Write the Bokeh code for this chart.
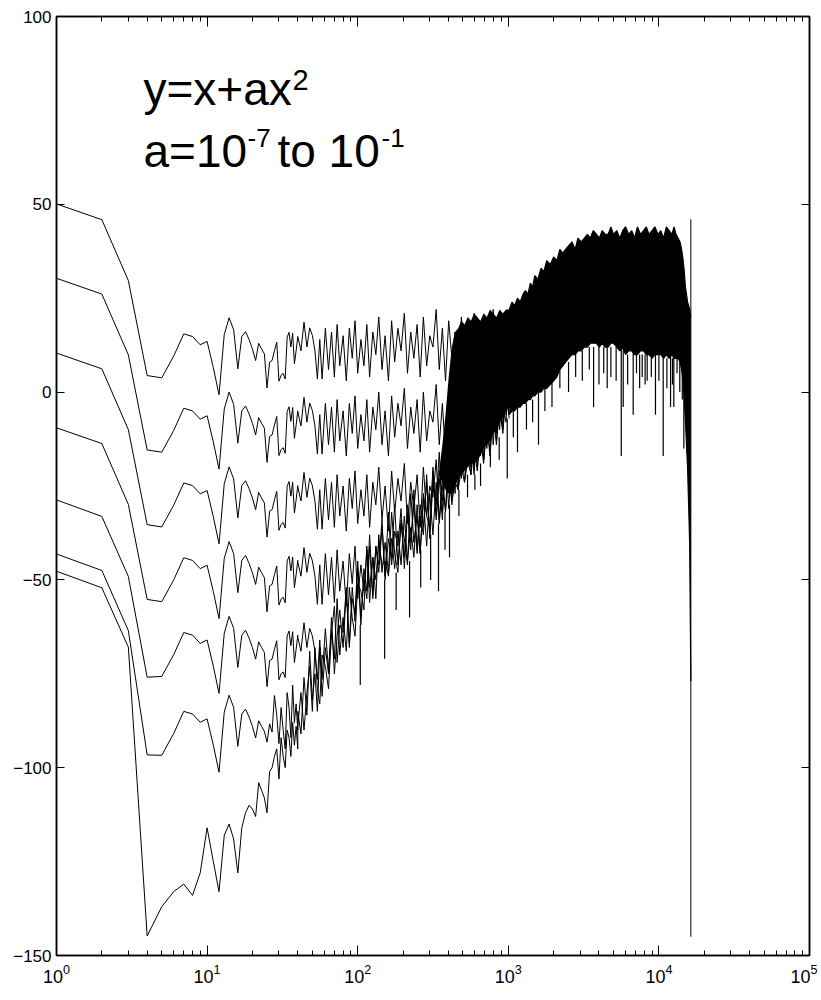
from bokeh.plotting import figure
from bokeh.models import Range1d, LogAxis, LinearAxis, FixedTicker, LogTicker, Label, CustomJSTickFormatter
from bokeh.embed import file_html
from bokeh.resources import INLINE

# ---------------- data ----------------
X_LOW = list(range(1, 41))

C1_LOW = [50.1, 45.9, 29.7, 4.4, 3.8, 9.6, 15.5, 14.8, 12.6, 13.5,
          6.5, -0.7, 15.3, 19.8, 16.6, 6.2, 14.8, 16.1, 14.0, 11.5,
          8.4, 13.0, 11.5, 10.2, 1.1, 8.0, 8.4, 11.0, 13.3, 2.9,
          4.5, 5.0, 3.5, 14.6, 15.9, 12.0, 15.7, 7.5, 11.0, 14.8]
C2_LOW = [30.3, 26.1, 9.9, -15.4, -16.0, -10.2, -4.3, -5.0, -7.2, -6.3,
          -13.3, -20.5, -4.5, 0.0, -3.2, -13.6, -5.0, -3.7, -5.8, -8.3,
          -11.4, -6.8, -8.3, -9.6, -18.7, -11.8, -11.4, -8.8, -6.5, -16.9,
          -15.3, -14.8, -16.3, -5.2, -3.9, -7.8, -4.1, -12.3, -8.8, -5.0]
C3_LOW = [10.4, 6.2, -10.0, -35.3, -35.9, -30.1, -24.2, -24.9, -27.1, -26.2,
          -33.2, -40.4, -24.4, -19.9, -23.1, -33.5, -24.9, -23.6, -25.7, -28.2,
          -31.3, -26.7, -28.2, -29.5, -38.6, -31.7, -31.3, -28.7, -26.4, -36.8,
          -35.2, -34.7, -36.2, -25.1, -23.8, -27.7, -24.0, -32.2, -28.7, -24.9]
C4_LOW = [-9.5, -13.7, -29.9, -55.2, -55.8, -50.0, -44.1, -44.8, -47.0, -46.1,
          -53.1, -60.3, -44.3, -39.8, -43.0, -53.4, -44.8, -43.5, -45.6, -48.1,
          -51.2, -46.6, -48.1, -49.4, -58.5, -51.6, -51.2, -48.6, -46.3, -56.7,
          -55.1, -54.6, -56.1, -45.0, -43.7, -47.6, -43.9, -52.1, -48.6, -44.8]
C5_LOW = [-28.7, -33.1, -49.1, -75.9, -75.7, -69.9, -64.0, -64.7, -66.9, -66.0,
          -73.0, -80.2, -64.2, -59.7, -62.9, -73.3, -64.7, -63.4, -65.5, -68.0,
          -71.1, -66.5, -68.0, -69.3, -78.4, -71.5, -71.1, -68.5, -66.2, -76.6,
          -75.0, -74.5, -76.0, -64.9, -63.6, -67.5, -63.8, -72.0, -68.5, -64.7]
C6_LOW = [-43.1, -47.5, -63.5, -96.6, -96.7, -90.9, -85.0, -85.7, -87.9, -87.0,
          -94.0, -101.2, -85.2, -80.7, -83.9, -94.3, -85.7, -84.4, -86.5, -89.0,
          -92.1, -87.5, -89.0, -90.3, -93.2, -88.3, -90.5, -80.8, -86.0, -93.6,
          -84.0, -90.0, -95.0, -80.0, -84.0, -92.0, -78.0, -88.0, -83.0, -90.0]
C7_LOW = [-47.7, -52.1, -67.9, -144.8, -137.0, -133.0, -131.0, -134.0, -128.0, -116.0,
          -125.0, -133.0, -118.0, -115.0, -119.0, -128.0, -116.0, -112.0, -110.0, -111.0,
          -113.0, -104.0, -106.0, -108.0, -112.0, -101.0, -100.0, -97.0, -95.0, -103.0,
          -92.0, -97.0, -100.0, -90.0, -92.0, -97.0, -88.0, -94.0, -89.0, -95.0]

X_MID = [40, 42, 44, 46, 48, 50, 52, 54, 56, 58,
         61, 64, 67, 70, 73, 76, 80, 84, 88, 92,
         96, 100, 105, 110, 115, 120, 126, 132, 138, 145,
         152, 160, 168, 176, 185, 194, 204, 214, 225, 236,
         248, 260, 273, 287, 301, 316, 332, 348, 365, 383,
         402, 422, 443, 465, 488, 512, 538, 565, 593, 622,
         653, 686, 720, 756, 794, 834, 876, 920, 966, 1014]

C1_MID = [14.8, 11.0, 18.6, 12.0, 17.1, 15.1, 11.0, 3.5, 14.0, 3.5,
          17, 6, 16, 4, 18, 7, 15, 3, 17, 9,
          19, 5, 14, 7, 18, 4, 16, 10, 20, 6,
          15, 3, 19, 8, 17, 11, 21, 5, 16, 9,
          18, 4, 20, 7, 15, 12, 22, 6, 17, 3,
          19, 9, 16, 5, 20, 8, 18, 4, 21, 10,
          17, 6, 19, 7, 22, 5, 18, 9, 21, 12]
C2_MID = [-5.2, -9.0, -1.4, -8.0, -2.9, -4.9, -9.0, -16.5, -6.0, -16.5,
          -3, -14, -4, -16, -2, -13, -5, -17, -3, -11,
          -1, -15, -6, -13, -2, -16, -4, -10, 0, -14,
          -5, -17, -1, -12, -3, -9, 1, -15, -4, -11,
          -2, -16, 0, -13, -5, -8, 2, -14, -3, -17,
          -1, -11, -4, -15, 0, -12, -2, -16, 1, -10,
          -3, -14, -1, -12, 2, -11, -2, -9, 1, -6]
C3_MID = [-25.2, -29.0, -21.4, -28.0, -22.9, -24.9, -29.0, -36.5, -26.0, -36.5,
          -23, -34, -24, -36, -22, -33, -25, -37, -23, -31,
          -21, -35, -26, -33, -22, -36, -24, -30, -20, -34,
          -25, -37, -21, -32, -23, -29, -19, -35, -24, -31,
          -22, -36, -20, -33, -25, -28, -18, -34, -23, -32,
          -21, -29, -24, -26, -20, -24, -18, -22, -14, -21,
          -12, -19, -9, -17, -6, -14, -4, -11, 0, -7]
C4_MID = [-45.2, -49.0, -41.4, -48.0, -42.9, -44.9, -49.0, -56.5, -46.0, -56.5,
          -43, -54, -44, -56, -42, -53, -45, -57, -43, -51,
          -41, -55, -46, -53, -42, -56, -44, -50, -40, -46,
          -45, -49, -39, -47, -37, -46, -33, -45, -36, -44,
          -30, -43, -28, -41, -27, -38, -24, -35, -25, -31,
          -17, -30, -21, -26, -12, -24, -15, -22, -9, -20,
          -8, -18, -6, -16, -1, -13, -3, -10, 2, -6]
C5_MID = [-65.2, -69.0, -61.4, -68.0, -62.9, -64.9, -69.0, -76.5, -66.0, -76.5,
          -63, -74, -64, -57, -72, -62, -64, -52, -67, -52,
          -61, -47, -62, -47, -53, -38, -54, -41, -48, -36,
          -49, -32, -46, -37, -41, -31, -47, -32, -42, -26,
          -42, -30, -36, -24, -38, -20, -33, -21, -29, -15,
          -31, -18, -21, -7, -23, -9, -19, -6, -21, -3,
          -17, -5, -11, 1, -14, 2, -6, 9, -6, 7]
C6_MID = [-85, -91, -76, -86, -69, -82, -75, -85, -68, -81,
          -68, -75, -60, -75, -65, -58, -68, -53, -68, -55,
          -59, -45, -60, -50, -55, -41, -55, -41, -46, -34,
          -50, -39, -44, -30, -46, -35, -44, -30, -40, -30,
          -43, -33, -38, -22, -39, -24, -30, -16, -32, -20,
          -26, -14, -27, -8, -22, -13, -16, -5, -22, -7,
          -16, 1, -15, -3, -8, 3, -10, 5, -5, 11]
C7_MID = [-89, -80, -90, -80, -73, -85, -68, -79, -83, -70,
          -73, -79, -64, -71, -55, -70, -60, -69, -52, -60,
          -65, -51, -53, -58, -41, -52, -44, -55, -38, -48,
          -40, -48, -32, -43, -48, -34, -39, -46, -27, -40,
          -33, -43, -27, -33, -36, -21, -34, -23, -34, -16,
          -22, -27, -10, -25, -12, -19, -4, -20, -12, -15,
          -5, -18, -5, -12, 4, -11, 2, -3, -8, 9]

# dense (merged) part of the mid band, drawn as a filled area
X_MB = [345, 365, 383, 402, 422, 443, 465, 488, 512, 538, 565, 593, 622, 653,
        686, 720, 756, 794, 834, 876, 920, 966, 1014, 1100]
MB_LO = [-22, -24, -26, -27, -27, -25, -23, -22, -21, -20, -19, -19, -18, -17,
         -15, -14, -13, -11, -10, -8, -7, -5, -4, -5]
MB_UP = [-22, -14, -6, 4, 12, 16, 17, 19, 18, 20, 19, 21, 20, 19,
         21, 20, 22, 21, 20, 22, 21, 22, 22, 23]

X_HI = [1014, 1060, 1100, 1150, 1200, 1250, 1300, 1350, 1400, 1450,
        1500, 1570, 1650, 1720, 1800, 1900, 2000, 2100, 2200, 2300,
        2400, 2520, 2650, 2780, 2900, 3050, 3200, 3350, 3500, 3670,
        3850, 4020, 4200, 4400, 4600, 4800, 5000, 5250, 5500, 5750,
        6000, 6300, 6600, 6900, 7200, 7550, 7900, 8250, 8600, 9000,
        9400, 9850, 10300, 10750, 11200, 11700, 12200, 12600, 13000, 13400,
        13800, 14150, 14500, 14750, 15000, 15250, 15500, 15750, 16000, 16300]
HI_UP = [22, 24, 23, 25, 24, 26, 27, 26, 29, 28,
         31, 30, 33, 32, 35, 34, 36, 35, 38, 37,
         38, 39, 40, 38, 41, 40, 41, 42, 41, 43,
         42, 41, 43, 42, 42, 44, 42, 43, 41, 43,
         44, 42, 43, 41, 44, 42, 43, 44, 42, 43,
         44, 42, 43, 41, 44, 43, 42, 44, 42, 41,
         40, 38, 35, 32, 28, 26, 24, 23, 22, 20]
HI_LO = [-6, -5, -5, -4, -4, -3, -3, -2, -2, -1,
         -1, 0, 0, 1, 1, 2, 3, 4, 6, 7,
         8, 9, 10, 10, 11, 11, 12, 12, 13, 13,
         13, 12, 13, 12, 12, 13, 13, 12, 11, 12,
         10, 11, 11, 10, 10, 11, 11, 10, 10, 9,
         10, 10, 10, 9, 10, 9, 10, 9, 9, 9,
         8, 6, 3, -2, -8, -14, -20, -30, -40, -77]

SPIKE_X = [104, 151, 180, 221, 262, 305, 344, 380, 407, 470, 536, 600, 654, 760, 870, 984,
           1080, 1151, 1320, 1450, 1587, 1750, 1950, 2200, 2512, 2800, 3100, 3450, 3683, 4000,
           4300, 4536, 4800, 5200, 5623, 5795, 6200, 6750, 7100, 7450, 7748, 8100, 8360,
           8900, 9490, 10000, 10680, 11300, 11950, 12300, 12560, 13200, 13760, 14300, 14640]
SPIKE_LO = [-78, -71, -58, -60, -52, -50, -53, -42, -44, -33, -28, -26, -25, -20, -18, -23,
            -12, -16, -10, -8, -14, -5, -4, 1, 0, 4, 3, 6, -4, 2,
            5, 1, 4, 3, -17, -4, 2, -6, 5, 1, 4, 2, 3,
            4, -6, 3, -17, 1, -4, 2, -4, 5, 0, -2, -15]
SPIKE_HI = [-62, -50, -48, -45, -42, -38, -35, -32, -30, -26, -22, -22, -19, -16, -12, -7,
            -5, -4, -3, -2, 0, 1, 3, 6, 8, 10, 11, 12, 12, 12,
            12, 13, 12, 12, 12, 12, 10, 11, 10, 10, 10, 10, 10,
            9, 10, 10, 10, 9, 10, 9, 10, 9, 8, 6, 3]

END_X = [16300]
END_TOP = [46]
END_BOT = [-145]

Y_TICKS = [-150, -100, -50, 0, 50, 100]

# ---------------- figure ----------------
TICK_FONT = "Liberation Sans"
TEXT_FONT = "Liberation Sans"

p = figure(x_axis_type="log", x_range=Range1d(1, 1e5), y_range=Range1d(-150, 100),
           width=817, height=1000,
           min_border_left=56, min_border_right=8, min_border_top=16, min_border_bottom=45,
           output_backend="svg", toolbar_location=None)
p.background_fill_color = "white"
p.border_fill_color = "white"
p.outline_line_color = "black"
p.outline_line_width = 1.5
p.xgrid.visible = False
p.ygrid.visible = False

def style(ax, is_x):
    ax.axis_line_color = "black"
    ax.axis_line_width = 1.5
    ax.major_tick_line_color = "black"
    ax.minor_tick_line_color = "black"
    ax.major_tick_in = 10 if is_x else 8
    ax.major_tick_out = 0
    ax.minor_tick_in = 5
    ax.minor_tick_out = 0
    ax.major_label_text_font = TICK_FONT
    ax.major_label_text_font_size = "17px"
    ax.major_label_text_color = "black"
    ax.major_label_standoff = 6

xb = p.xaxis[0]
xb.ticker = LogTicker(num_minor_ticks=10)
style(xb, True)
xb.major_label_text_font_size = "18px"
xb.major_label_standoff = 8
yl = p.yaxis[0]
yl.ticker = FixedTicker(ticks=Y_TICKS, minor_ticks=[])
style(yl, False)
yl.major_label_standoff = 5

blank = CustomJSTickFormatter(code="return ''")
xt = LogAxis(ticker=LogTicker(num_minor_ticks=10), formatter=blank)
style(xt, True)
xt.major_label_standoff = 0
p.add_layout(xt, "above")
yr = LinearAxis(ticker=FixedTicker(ticks=Y_TICKS, minor_ticks=[]), formatter=blank)
style(yr, False)
yr.major_label_standoff = 0
p.add_layout(yr, "right")

curves = [(C1_LOW, C1_MID), (C2_LOW, C2_MID), (C3_LOW, C3_MID), (C4_LOW, C4_MID),
          (C5_LOW, C5_MID), (C6_LOW, C6_MID), (C7_LOW, C7_MID)]
for lo, mid in curves:
    p.line(X_LOW + X_MID, lo + mid, line_color="black", line_width=1)

p.varea(x=X_MB, y1=MB_LO, y2=MB_UP, fill_color="black")
p.varea(x=X_HI, y1=HI_LO, y2=HI_UP, fill_color="black")
p.line(X_HI, HI_UP, line_color="black", line_width=1.2)
p.line(X_HI, HI_LO, line_color="black", line_width=1.2)
p.segment(x0=SPIKE_X, y0=SPIKE_LO, x1=SPIKE_X, y1=SPIKE_HI, line_color="black", line_width=1.2)
p.segment(x0=END_X, y0=END_BOT, x1=END_X, y1=END_TOP, line_color="black", line_width=1)

# annotation text
def lab(text, dx, dy, size):
    p.add_layout(Label(x=3.78, y=80.8, x_offset=dx, y_offset=dy, text=text,
                       text_font=TEXT_FONT, text_font_size=size, text_color="black",
                       text_baseline="alphabetic", text_align="left"))

lab("y=x+ax", 0, 0, "46px")
lab("2", 149, 9, "29px")
lab("a=10", 0, -62, "46px")
lab("-7", 104, -49, "26px")
lab("to 10", 134, -62, "46px")
lab("-1", 238, -49, "26px")

open("out.html", "w").write(file_html(p, INLINE))
